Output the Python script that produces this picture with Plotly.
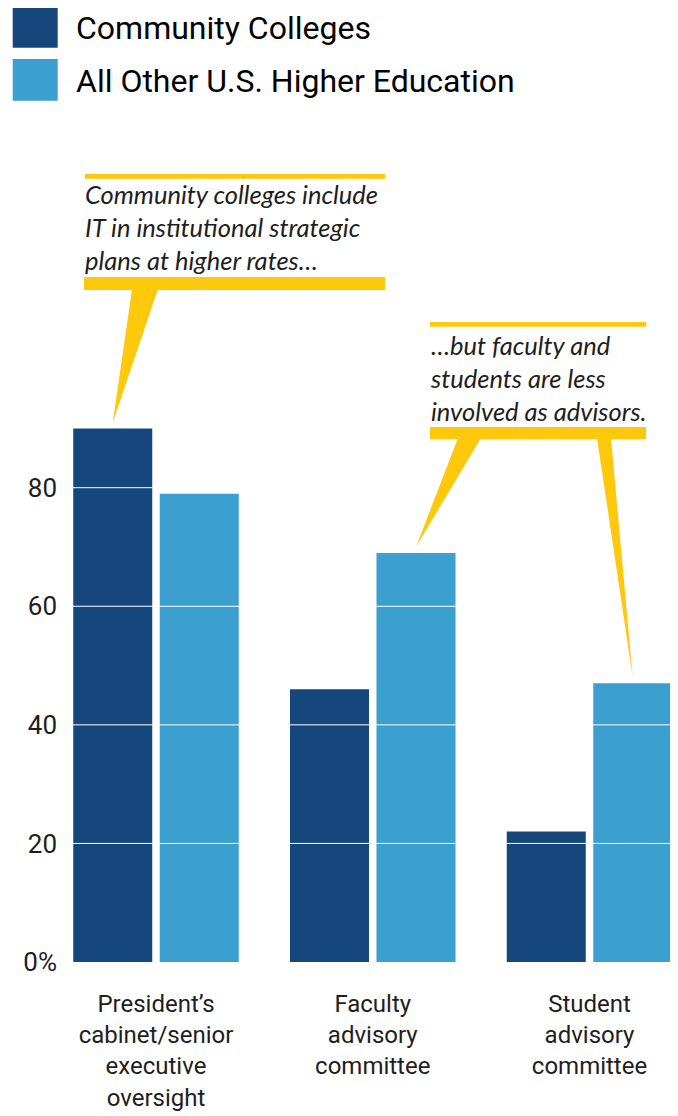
import plotly.graph_objects as go

# ---------------- data ----------------
categories = [
    "President’s<br>cabinet/senior<br>executive<br>oversight",
    "Faculty<br>advisory<br>committee",
    "Student<br>advisory<br>committee",
]
series_names = ["Community Colleges", "All Other U.S. Higher Education"]
community_colleges = [90, 46, 22]
all_other_higher_ed = [79, 69, 47]
y_tick_values = [0, 20, 40, 60, 80]
y_tick_labels = ["0%", "20", "40", "60", "80"]
callout_texts = [
    "Community colleges include<br>IT in institutional strategic<br>plans at higher rates…",
    "…but faculty and<br>students are less<br>involved as advisors.",
]

# ---------------- styling / layout ----------------
DARK = "#15477C"
LIGHT = "#3BA0CF"
YELLOW = "#FEC80C"
TEXT = "#1e1e1e"
SANS = "Roboto"
ITALIC_FONT = "Lato"

WIN_W, WIN_H = 678, 1116
OFF = 8                      # default page body margin
W, H = WIN_W - OFF, WIN_H - OFF

# geometry in window pixels
PLOT_LEFT_WIN, PLOT_TOP_WIN, PLOT_RIGHT_WIN = 62, 110, 678
X0_WIN, X_UNIT = 156.0, 216.75      # centre of first category, px per category
Y0_WIN = 962.0                      # baseline
Y_UNIT = (Y0_WIN - 487.7) / 80.0    # px per percentage point

ML = PLOT_LEFT_WIN - OFF
MT = PLOT_TOP_WIN - OFF
MR = W - (PLOT_RIGHT_WIN - OFF)
MB = H - (Y0_WIN - OFF)
PLOT_W = PLOT_RIGHT_WIN - PLOT_LEFT_WIN
PLOT_H = Y0_WIN - PLOT_TOP_WIN

BARGAP = 0.2018
BARGROUPGAP = 0.0867
BAR_OFFSET = (1 - BARGAP) / 4.0     # centre offset of each bar within group


def px2x(px):
    return (px - X0_WIN) / X_UNIT


def py2y(py):
    return (Y0_WIN - py) / Y_UNIT


def ppx(px):
    return (px - PLOT_LEFT_WIN) / PLOT_W


def ppy(py):
    return (Y0_WIN - py) / PLOT_H


x_pos = list(range(len(categories)))

fig = go.Figure()
fig.add_trace(go.Bar(x=x_pos, y=community_colleges, name=series_names[0],
                     marker=dict(color=DARK, line=dict(width=0)), showlegend=False))
fig.add_trace(go.Bar(x=x_pos, y=all_other_higher_ed, name=series_names[1],
                     marker=dict(color=LIGHT, line=dict(width=0)), showlegend=False))

shapes = []
# white gridlines drawn over the bars
for v in y_tick_values[1:]:
    shapes.append(dict(type="line", xref="paper", yref="y", x0=0, x1=1, y0=v, y1=v,
                       line=dict(color="white", width=1), layer="above"))

# callout 1 (points to community colleges, first category)
shapes.append(dict(type="rect", xref="x", yref="y", x0=px2x(85), x1=px2x(385),
                   y0=py2y(178.7), y1=py2y(174), fillcolor=YELLOW, line=dict(width=0), layer="above"))
shapes.append(dict(type="rect", xref="x", yref="y", x0=px2x(84), x1=px2x(385),
                   y0=py2y(290), y1=py2y(277), fillcolor=YELLOW, line=dict(width=0), layer="above"))
tip_x, tip_y = x_pos[0] - BAR_OFFSET, community_colleges[0] + 1
shapes.append(dict(type="path", xref="x", yref="y",
                   path=f"M{px2x(132)},{py2y(289)} L{px2x(158)},{py2y(289)} L{tip_x},{tip_y} Z",
                   fillcolor=YELLOW, line=dict(width=0), layer="above"))

# callout 2 (points to all other higher ed, second and third category)
shapes.append(dict(type="rect", xref="x", yref="y", x0=px2x(430), x1=px2x(646),
                   y0=py2y(326.7), y1=py2y(322), fillcolor=YELLOW, line=dict(width=0), layer="above"))
shapes.append(dict(type="rect", xref="x", yref="y", x0=px2x(430), x1=px2x(646),
                   y0=py2y(439.3), y1=py2y(427), fillcolor=YELLOW, line=dict(width=0), layer="above"))
tip_x, tip_y = x_pos[1] + BAR_OFFSET, all_other_higher_ed[1] + 1
shapes.append(dict(type="path", xref="x", yref="y",
                   path=f"M{px2x(458)},{py2y(438)} L{px2x(481)},{py2y(438)} L{tip_x},{tip_y} Z",
                   fillcolor=YELLOW, line=dict(width=0), layer="above"))
tip_x, tip_y = x_pos[2] + BAR_OFFSET, all_other_higher_ed[2] + 1
shapes.append(dict(type="path", xref="x", yref="y",
                   path=f"M{px2x(597)},{py2y(438)} L{px2x(611)},{py2y(438)} L{tip_x},{tip_y} Z",
                   fillcolor=YELLOW, line=dict(width=0), layer="above"))

# custom legend squares
for i, col in enumerate([DARK, LIGHT]):
    top = 6 + i * 53
    shapes.append(dict(type="rect", xref="paper", yref="paper",
                       x0=ppx(12.7), x1=ppx(57.7), y0=ppy(top + 41.7), y1=ppy(top),
                       fillcolor=col, line=dict(width=0), layer="above"))

annotations = []
for i, name in enumerate(series_names):
    annotations.append(dict(xref="paper", yref="paper", x=ppx(74), y=ppy(28 + i * 53),
                            xanchor="left", yanchor="middle", showarrow=False, text=name,
                            font=dict(family=SANS, size=32, color="black")))

annotations.append(dict(xref="x", yref="y", x=px2x(83), y=py2y(227), xanchor="left",
                        yanchor="middle", showarrow=False, align="left",
                        text="<i>" + callout_texts[0].replace("<br>", "</i><br><i>") + "</i>",
                        font=dict(family=ITALIC_FONT, size=25.5, color=TEXT)))
annotations.append(dict(xref="x", yref="y", x=px2x(428), y=py2y(378), xanchor="left",
                        yanchor="middle", showarrow=False, align="left",
                        text="<i>" + callout_texts[1].replace("<br>", "</i><br><i>") + "</i>",
                        font=dict(family=ITALIC_FONT, size=25.5, color=TEXT)))

fig.update_layout(
    width=W, height=H,
    margin=dict(l=ML, r=MR, t=MT, b=MB, pad=0, autoexpand=False),
    paper_bgcolor="white", plot_bgcolor="white",
    barmode="group", bargap=BARGAP, bargroupgap=BARGROUPGAP,
    shapes=shapes, annotations=annotations,
    xaxis=dict(range=[px2x(PLOT_LEFT_WIN), px2x(PLOT_RIGHT_WIN)], tickvals=x_pos, ticktext=categories,
               showgrid=False, zeroline=False, showline=False, ticks="", automargin=False,
               tickfont=dict(family=SANS, size=24, color=TEXT), ticklabelstandoff=25,
               fixedrange=True),
    yaxis=dict(range=[0, py2y(PLOT_TOP_WIN)], tickvals=y_tick_values, ticktext=y_tick_labels,
               showgrid=False, zeroline=False, showline=False, ticks="", automargin=False,
               tickfont=dict(family=SANS, size=26, color=TEXT), ticklabelstandoff=4,
               fixedrange=True),
    font=dict(family=SANS),
    showlegend=False,
)

fig.write_html("out.html")
